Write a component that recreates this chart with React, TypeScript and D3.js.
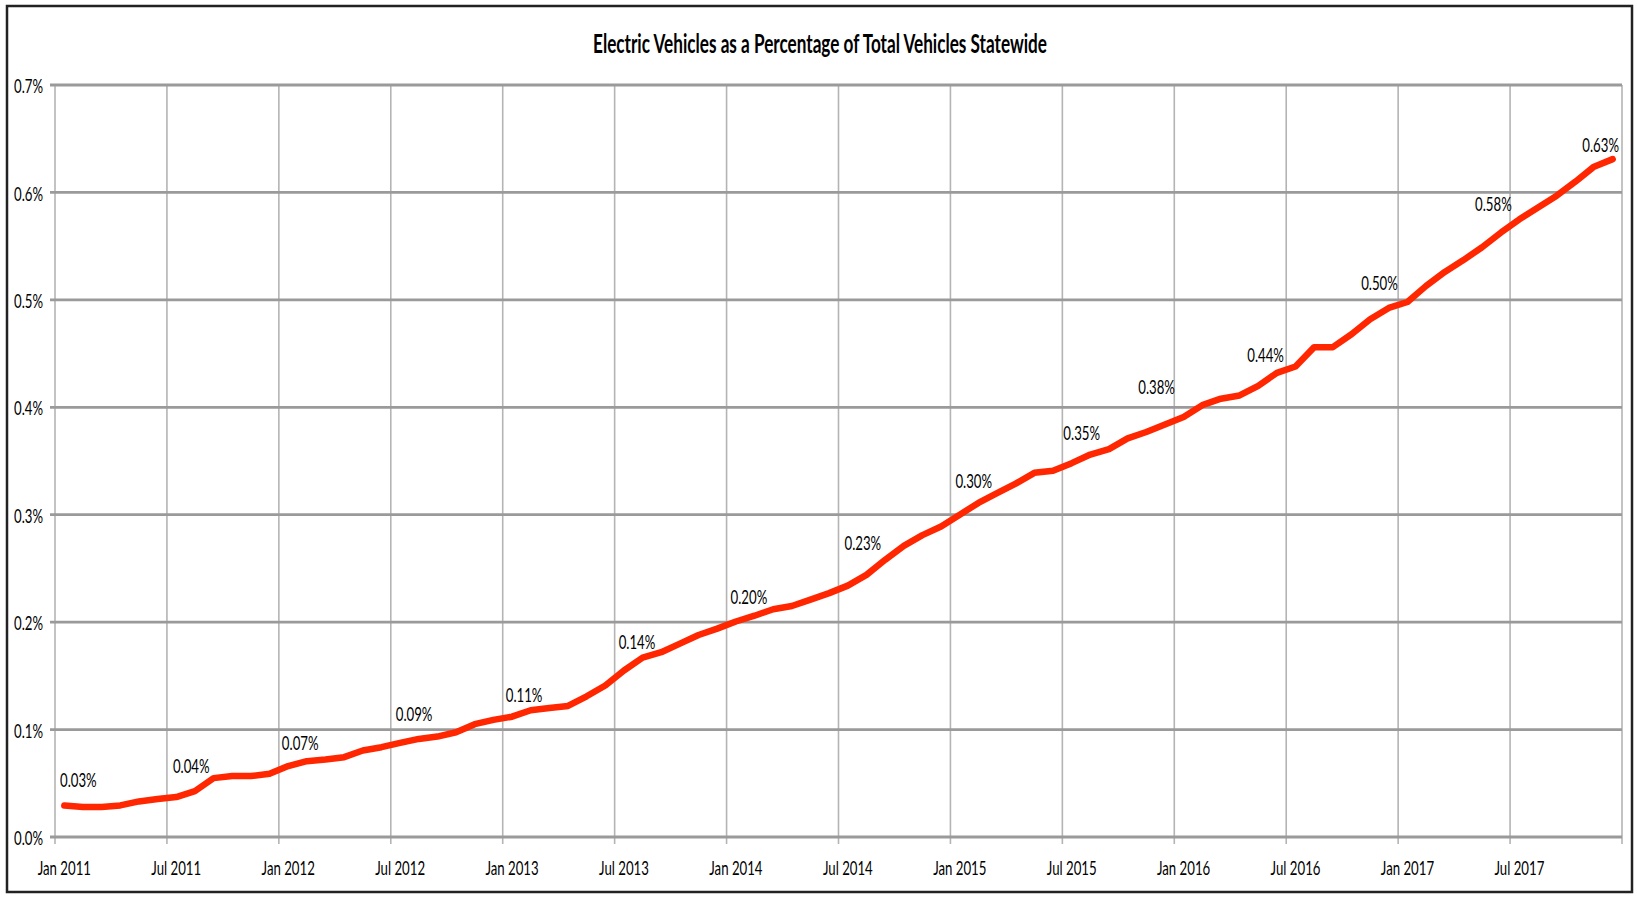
import { useMemo } from "react";
import * as d3 from "d3";

// monthly share of electric vehicles, Jan 2011 .. Dec 2017 (percent)
const evShare = [
  0.0294, 0.0279, 0.0279, 0.0294, 0.0331, 0.0353, 0.0372, 0.0427, 0.0548, 0.0567, 0.0567, 0.0588,
  0.066, 0.0706, 0.0721, 0.0743, 0.0805, 0.0836, 0.0876, 0.0913, 0.0935, 0.0975, 0.105, 0.109,
  0.112, 0.118, 0.12, 0.122, 0.131, 0.141, 0.155, 0.167, 0.172, 0.18, 0.188, 0.194,
  0.2006, 0.206, 0.212, 0.215, 0.221, 0.227, 0.234, 0.244, 0.258, 0.271, 0.281, 0.289,
  0.3, 0.311, 0.32, 0.329, 0.339, 0.341, 0.348, 0.356, 0.361, 0.371, 0.377, 0.384,
  0.391, 0.402, 0.408, 0.411, 0.42, 0.432, 0.438, 0.456, 0.456, 0.468, 0.482, 0.4925,
  0.498, 0.513, 0.526, 0.537, 0.549, 0.5625, 0.575, 0.586, 0.597, 0.61, 0.624, 0.631,
];

const months = d3.timeMonth.range(new Date(2011, 0, 1), new Date(2018, 0, 1));

const yTicks = [0, 0.1, 0.2, 0.3, 0.4, 0.5, 0.6, 0.7];

// which points carry a data label, and the text shown
const labelIdx = [0, 6, 12, 18, 24, 30, 36, 42, 48, 54, 60, 66, 72, 78, 83];
const labelTexts = [
  "0.03%", "0.04%", "0.07%", "0.09%", "0.11%", "0.14%", "0.20%", "0.23%",
  "0.30%", "0.35%", "0.38%", "0.44%", "0.50%", "0.58%", "0.63%",
];
// label centre offsets from their point (layout only)
const labelNudge: [number, number][] = [
  [14, -26], [15, -31], [12, -23], [14, -29], [12, -22], [13, -29], [13, -25], [15, -43],
  [14, -34], [10, -30], [-27, -30], [-30, -12], [-28, -19], [-26, -15], [-12, -14],
];

const W = 1637;
const H = 899;
const plot = { left: 55, right: 1622, top: 85, bottom: 837 };
const FONT = "Lato, 'Open Sans', sans-serif";
const SX = 0.66; // the source chart's text is horizontally squeezed

function SText({ x, y, size, anchor = "middle", bold = false, children }: any) {
  return (
    <text
      transform={`translate(${x},${y}) scale(${SX},1)`}
      fontFamily={FONT}
      fontSize={size}
      fontWeight={bold ? 700 : 400}
      textAnchor={anchor}
      dy="0.36em"
      fill="#000"
    >
      {children}
    </text>
  );
}

export default function App() {
  const x = useMemo(
    () =>
      d3
        .scaleBand<Date>()
        .domain(months)
        .range([plot.left, plot.right])
        .padding(0),
    []
  );
  const y = useMemo(
    () => d3.scaleLinear().domain([0, 0.7]).range([plot.bottom, plot.top]),
    []
  );
  const cx = (i: number) => (x(months[i]) as number) + x.bandwidth() / 2;

  const line = d3
    .line<number>()
    .x((_, i) => cx(i))
    .y((d) => y(d));

  const fmt = d3.timeFormat("%b %Y");
  const gridMonths = months.filter((_, i) => i % 6 === 0);
  const vLines = [...gridMonths.map((m) => x(m) as number), plot.right];

  return (
    <svg
      width={W}
      height={H}
      style={{ position: "absolute", left: 0, top: 0, background: "#fff" }}
    >
      <rect x={0} y={0} width={W} height={H} fill="#fff" />
      <rect x={7} y={6} width={1625} height={886} fill="none" stroke="#222" strokeWidth={2.5} />

      <SText x={820} y={44} size={26} bold>
        Electric Vehicles as a Percentage of Total Vehicles Statewide
      </SText>

      {/* vertical gridlines */}
      {vLines.map((vx, i) => (
        <line
          key={"v" + i}
          x1={vx}
          x2={vx}
          y1={plot.top}
          y2={plot.bottom + 7}
          stroke="#b4b4b4"
          strokeWidth={1.6}
        />
      ))}

      {/* horizontal gridlines */}
      {yTicks.map((t) => (
        <line
          key={"h" + t}
          x1={plot.left - 5}
          x2={plot.right}
          y1={y(t)}
          y2={y(t)}
          stroke="#9a9a9a"
          strokeWidth={2.8}
        />
      ))}

      {yTicks.map((t) => (
        <SText key={"yl" + t} x={43} y={y(t) + 1} size={20} anchor="end">
          {`${t.toFixed(1)}%`}
        </SText>
      ))}

      {gridMonths.map((m, i) => (
        <SText key={"xl" + i} x={(x(m) as number) + x.bandwidth() / 2} y={868} size={20}>
          {fmt(m)}
        </SText>
      ))}

      <path
        d={line(evShare) || ""}
        fill="none"
        stroke="#ff2600"
        strokeWidth={6.5}
        strokeLinejoin="round"
        strokeLinecap="round"
      />

      {labelIdx.map((idx, k) => (
        <SText
          key={"dl" + k}
          x={cx(idx) + labelNudge[k][0]}
          y={y(evShare[idx]) + labelNudge[k][1]}
          size={20}
        >
          {labelTexts[k]}
        </SText>
      ))}
    </svg>
  );
}
